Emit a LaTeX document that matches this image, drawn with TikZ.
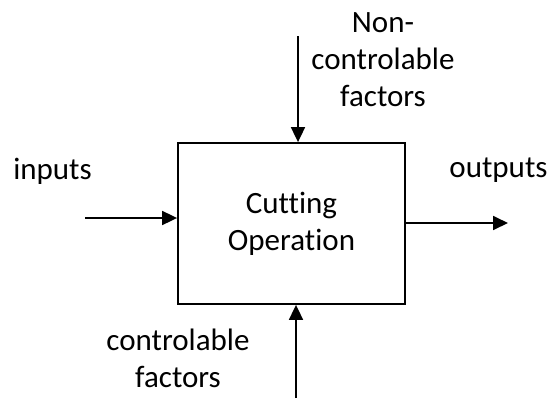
\documentclass[tikz,border=0pt]{standalone}
\usepackage{fontspec}
\setmainfont{Carlito}[Ligatures=NoCommon]
\usetikzlibrary{arrows.meta}
\begin{document}
\begin{tikzpicture}[x=1pt,y=-1pt,line width=1.8pt,
  flow/.style={-{Triangle[length=15pt,width=14pt]}},
  lbl/.style={font=\fontsize{31}{37}\selectfont,inner sep=0pt,align=center}]
\useasboundingbox (0,0) rectangle (551,399);
% the process block
\node[draw,lbl,minimum width=227pt,minimum height=161pt] (op) at (291.5,223.5) {Cutting\\Operation};
% free ends of the arrows
\coordinate (in) at (85,218);
\coordinate (out) at (508,223);
\coordinate (nc) at (298,36);
\coordinate (ct) at (296,398);
\draw[flow] (in) -- (in -| op.west);
\draw[flow] (out -| op.east) -- (out);
\draw[flow] (nc) -- (nc |- op.north);
\draw[flow] (ct) -- (ct |- op.south);
% labels
\node[lbl,anchor=base] (inp) at (52.5,179) {inputs};
\node[lbl,anchor=base] (outp) at (498.5,177) {outputs};
\node[lbl,anchor=center] (ncf) at (383,60) {Non-\\controlable\\factors};
\node[lbl,anchor=center] (ctf) at (178,358) {controlable\\factors};
\end{tikzpicture}
\end{document}
